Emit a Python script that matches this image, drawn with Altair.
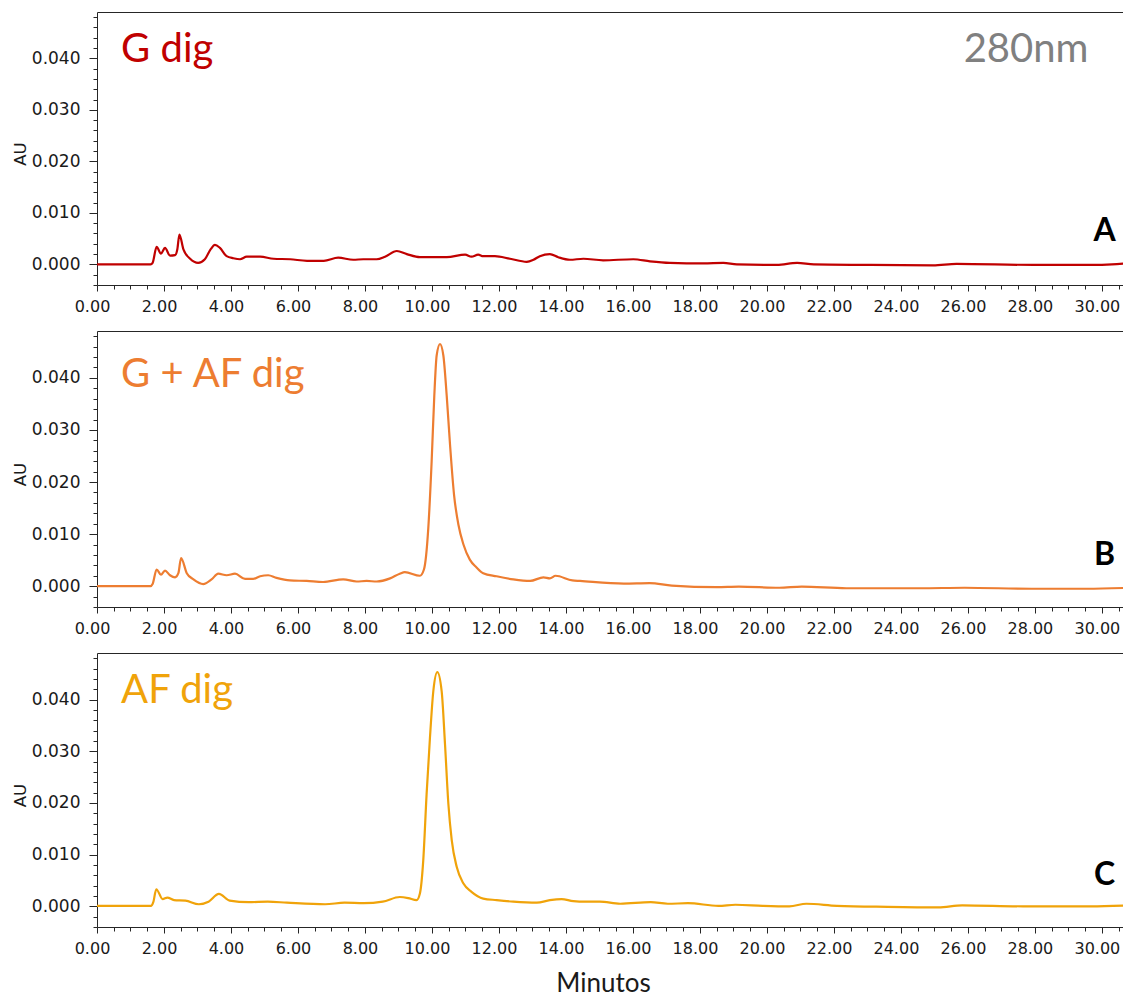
import altair as alt
import pandas as pd

# ---- data (time in min, absorbance in AU) ----
t_g = [0, 1.60, 1.66, 1.78, 1.91, 2.03, 2.18, 2.33, 2.40, 2.46, 2.58, 2.78, 3.02, 3.22, 3.40, 3.52,
       3.67, 3.87, 4.07, 4.27, 4.47, 4.87, 5.27, 5.77, 6.27, 6.77, 7.20, 7.65, 7.95, 8.35, 8.60,
       8.95, 9.25, 9.64, 10.44, 10.99, 11.18, 11.38, 11.53, 11.88, 12.33, 12.83, 13.03, 13.22,
       13.52, 13.77, 14.12, 14.52, 15.11, 16.01, 16.51, 17.10, 18.10, 18.70, 19.10, 20.30, 20.90,
       21.40, 23.00, 24.96, 25.66, 27.95, 29.70, 30.30, 30.87]
au_g = [0, 0, 0.0003, 0.0034, 0.0021, 0.0032, 0.0017, 0.0018, 0.0030, 0.0058, 0.0029, 0.0011,
        0.0003, 0.0010, 0.0030, 0.0038, 0.0032, 0.0016, 0.0012, 0.0010, 0.0015, 0.0015, 0.0011,
        0.0010, 0.0007, 0.0007, 0.0013, 0.0009, 0.0010, 0.0010, 0.0015, 0.0026, 0.0020, 0.0014,
        0.0014, 0.0019, 0.0015, 0.0019, 0.0016, 0.0016, 0.0011, 0.0005, 0.0009, 0.0016, 0.0020,
        0.0014, 0.0009, 0.0011, 0.0008, 0.0010, 0.0006, 0.0003, 0.0002, 0.0003, 0.0000, -0.0001,
        0.0003, 0.0000, -0.0001, -0.0002, 0.0001, -0.0001, -0.0001, 0.0000, 0.0003]

t_gaf = [0, 1.60, 1.66, 1.78, 1.91, 2.03, 2.18, 2.33, 2.43, 2.51, 2.68, 2.88, 3.17, 3.42, 3.62,
         3.87, 4.12, 4.42, 4.66, 4.87, 5.11, 5.36, 5.76, 6.26, 6.75, 7.35, 7.75, 8.05, 8.35, 8.75,
         9.04, 9.19, 9.64, 9.76, 9.89, 9.99, 10.07, 10.14, 10.24, 10.34, 10.44, 10.54, 10.66,
         10.79, 10.94, 11.13, 11.33, 11.53, 11.93, 12.43, 12.93, 13.33, 13.52, 13.69, 14.19,
         14.42, 15.73, 16.50, 17.16, 18.50, 19.16, 20.37, 21.04, 22.37, 24.57, 25.90, 27.90,
         29.55, 30.87]
au_gaf = [0, 0, 0.0004, 0.0032, 0.0022, 0.0030, 0.0021, 0.0017, 0.0025, 0.0054, 0.0025, 0.0013,
          0.0004, 0.0013, 0.0024, 0.0021, 0.0024, 0.0014, 0.0014, 0.0019, 0.0021, 0.0016, 0.0011,
          0.0010, 0.0008, 0.0013, 0.0009, 0.0010, 0.0009, 0.0015, 0.0024, 0.0027, 0.0020, 0.0032,
          0.0111, 0.0239, 0.0366, 0.0443, 0.0465, 0.0443, 0.0366, 0.0271, 0.0175, 0.0118, 0.0080,
          0.0051, 0.0036, 0.0025, 0.0019, 0.0013, 0.0010, 0.0017, 0.0015, 0.0020, 0.0011, 0.0010,
          0.0005, 0.0006, 0.0001, -0.0002, -0.0001, -0.0003, -0.0001, -0.0004, -0.0004, -0.0003,
          -0.0005, -0.0005, -0.0003]

t_af = [0, 1.62, 1.68, 1.77, 1.96, 2.10, 2.30, 2.64, 3.04, 3.33, 3.64, 3.96, 4.53, 5.10, 5.67,
        6.81, 7.39, 7.96, 8.53, 9.04, 9.29, 9.54, 9.64, 9.74, 9.84, 9.94, 10.04, 10.16, 10.29,
        10.39, 10.49, 10.59, 10.74, 10.94, 11.18, 11.53, 11.93, 12.43, 13.13, 13.52, 13.87, 14.22,
        14.58, 15.01, 15.62, 16.53, 17.04, 17.64, 18.55, 19.06, 19.87, 20.67, 21.18, 22.09, 23.60,
        25.12, 25.83, 27.65, 29.67, 30.87]
au_af = [0.0001, 0.0001, 0.0008, 0.0033, 0.0014, 0.0017, 0.0012, 0.0011, 0.0004, 0.0009, 0.0024,
         0.0011, 0.0008, 0.0009, 0.0007, 0.0004, 0.0007, 0.0006, 0.0009, 0.0018, 0.0016, 0.0012,
         0.0025, 0.0089, 0.0217, 0.0326, 0.0416, 0.0453, 0.0416, 0.0313, 0.0198, 0.0128, 0.0076,
         0.0044, 0.0028, 0.0015, 0.0012, 0.0009, 0.0007, 0.0012, 0.0014, 0.0010, 0.0009, 0.0009,
         0.0005, 0.0008, 0.0005, 0.0006, 0.0001, 0.0003, 0.0001, 0.0000, 0.0005, 0.0001, -0.0001,
         -0.0002, 0.0002, 0.0000, 0.0000, 0.0002]

panel_names = ["G dig", "G + AF dig", "AF dig"]
panel_letters = ["A", "B", "C"]
panel_colors = ["#C00000", "#ED7D31", "#F0A30A"]
wavelength_label = "280nm"

x_ticks = [i * 0.5 for i in range(62)]
y_ticks = [round(-0.004 + i * 0.002, 3) for i in range(27)]

# ---- layout / annotation placement ----
W = 1026
heights = [273, 276, 274]
name_y = [0.0393, 0.0382, 0.0393]
letter_y = [0.0065, 0.0059, 0.0061]
x_dom = [0, 30.63]
y_dom = [-0.004, 0.049]
AX = "#262626"
LBL_FONT = "DejaVu Sans"
NOTE_FONT = "Lato"

X_MAJOR = "datum.value % 2 === 0"
Y_MAJOR = "abs(round(datum.value * 1000)) % 10 === 0"

xscale = alt.Scale(domain=x_dom, nice=False, zero=False)
yscale = alt.Scale(domain=y_dom, nice=False, zero=False)


def panel(i, t, au):
    h = heights[i]
    last = i == 2
    color = panel_colors[i]
    df = pd.DataFrame({"t": t, "au": au})
    xaxis = alt.Axis(
        orient="bottom",
        values=x_ticks, tickCount=200,
        labelExpr=X_MAJOR + " ? format(datum.value, '.2f') : ''",
        tickSize={"condition": {"test": X_MAJOR, "value": 6}, "value": 4},
        labelFontSize={"condition": {"test": X_MAJOR, "value": 16}, "value": 0},
        labelOverlap=False, labelFlush=False, labelOffset=-5, labelPadding=7,
        labelFont=LBL_FONT, labelColor="#1a1a1a",
        tickColor=AX, domainColor=AX, grid=False,
        title="Minutos" if last else None,
        titleFont=NOTE_FONT, titleFontSize=26, titleFontWeight="normal",
        titleColor="#1a1a1a", titlePadding=14, titleX=506, titleAnchor="middle",
    )
    yaxis = alt.Axis(
        values=y_ticks, tickCount=200,
        labelExpr=Y_MAJOR + " ? format(datum.value, '.3f') : ''",
        tickSize={"condition": {"test": Y_MAJOR, "value": 8}, "value": 4},
        labelFontSize={"condition": {"test": Y_MAJOR, "value": 17}, "value": 0},
        labelOverlap=False, labelFlush=False, labelPadding=9,
        labelFont=LBL_FONT, labelColor="#1a1a1a",
        tickColor=AX, domainColor=AX, grid=False,
        title="AU", titleFont=LBL_FONT, titleFontSize=16.5, titleFontWeight="normal",
        titleColor="#1a1a1a", titlePadding=3, titleY=h / 2 + 5,
    )
    line = alt.Chart(df).mark_line(color=color, strokeWidth=2.2, interpolate="monotone",
                                   clip=True).encode(
        x=alt.X("t:Q", scale=xscale, axis=xaxis),
        y=alt.Y("au:Q", scale=yscale, axis=yaxis),
    )
    # invisible copy that only carries the top border (domain line of a top axis)
    border = alt.Chart(df).mark_line(opacity=0, clip=True).encode(
        x=alt.X("t:Q", scale=xscale,
                axis=alt.Axis(orient="top", labels=False, ticks=False, domain=True,
                              domainColor=AX, grid=False, title=None)),
        y=alt.Y("au:Q", scale=yscale),
    )
    name_df = pd.DataFrame({"t": [0.72], "au": [name_y[i]], "txt": [panel_names[i]]})
    name_txt = alt.Chart(name_df).mark_text(
        font=NOTE_FONT, fontSize=40, color=color, align="left", baseline="alphabetic"
    ).encode(x=alt.X("t:Q", scale=xscale, axis=None), y=alt.Y("au:Q", scale=yscale),
             text="txt:N")
    let_df = pd.DataFrame({"t": [30.08], "au": [letter_y[i]], "txt": [panel_letters[i]]})
    let_txt = alt.Chart(let_df).mark_text(
        font=NOTE_FONT, fontSize=32, fontWeight="bold", color="#000000", align="center",
        baseline="middle"
    ).encode(x=alt.X("t:Q", scale=xscale, axis=None), y=alt.Y("au:Q", scale=yscale),
             text="txt:N")
    layers = [line, border, name_txt, let_txt]
    if i == 0:
        wl_df = pd.DataFrame({"t": [29.6], "au": [0.0393], "txt": [wavelength_label]})
        wl_txt = alt.Chart(wl_df).mark_text(
            font=NOTE_FONT, fontSize=40, color="#808080", align="right", baseline="alphabetic"
        ).encode(x=alt.X("t:Q", scale=xscale, axis=None), y=alt.Y("au:Q", scale=yscale),
                 text="txt:N")
        layers.append(wl_txt)
    return alt.layer(*layers).resolve_axis(x="independent").properties(width=W, height=h)


series = [(t_g, au_g), (t_gaf, au_gaf), (t_af, au_af)]
panels = [panel(i, s[0], s[1]) for i, s in enumerate(series)]

chart = alt.vconcat(*panels, spacing=17).properties(
    padding={"left": 4, "top": 4, "right": 0, "bottom": 0},
    background="white",
).configure_view(strokeOpacity=0)

chart.save("out.html", embed_options={"renderer": "svg", "actions": False})
